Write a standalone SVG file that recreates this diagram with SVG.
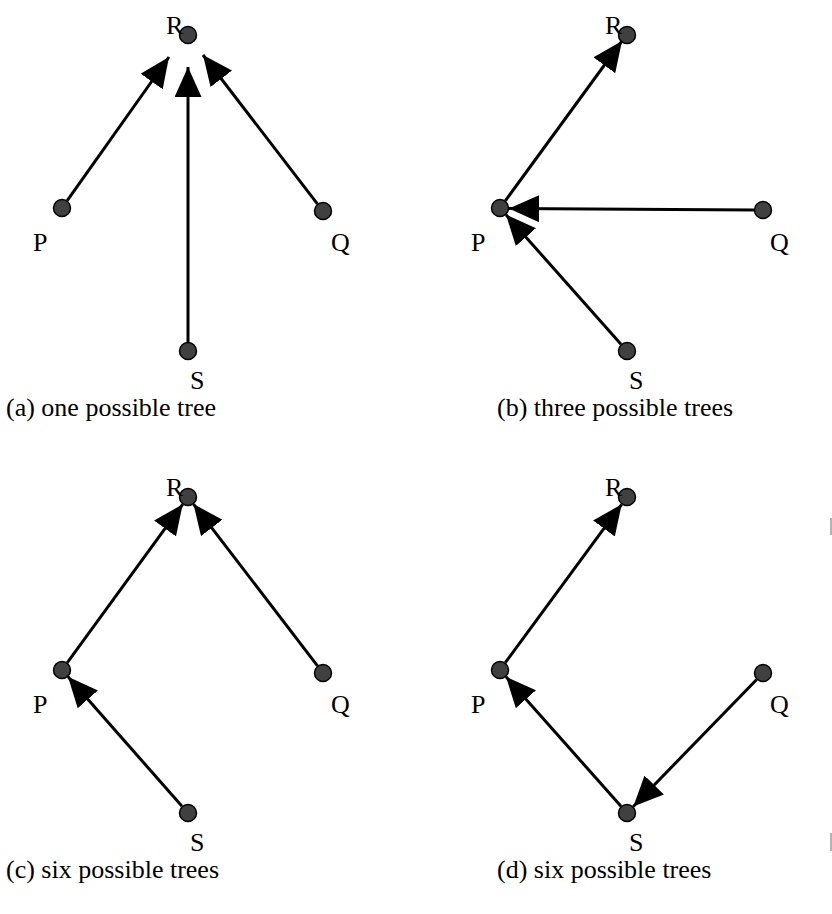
<svg xmlns="http://www.w3.org/2000/svg" width="832" height="914" viewBox="0 0 832 914">
<style>
.n{fill:#404040;stroke:#000;stroke-width:1.5}
.e{stroke:#000;stroke-width:3;fill:none;marker-end:url(#ah)}
text{font-family:"Liberation Serif","Times New Roman",serif;font-size:26px;fill:#000}
</style>
<defs>
<marker id="ah" markerUnits="userSpaceOnUse" markerWidth="31" markerHeight="27" refX="30" refY="13.5" orient="auto" viewBox="0 0 31 27">
<path d="M0,0 L30,13.5 L0,27 Z" fill="#000"/>
</marker>
</defs>
<rect width="832" height="914" fill="#fff"/>
<g id="panel-a">
<g id="a-R"><circle class="n" cx="188" cy="35" r="8.5"/><text x="166" y="34">R</text></g>
<g id="a-P"><circle class="n" cx="62" cy="208" r="8.5"/><text x="33" y="251">P</text></g>
<g id="a-Q"><circle class="n" cx="323" cy="211" r="8.5"/><text x="331" y="251">Q</text></g>
<g id="a-S"><circle class="n" cx="188" cy="351" r="8.5"/><text x="190" y="389">S</text></g>
<text x="6" y="416">(a) one possible tree</text>
</g>
<g id="panel-b">
<g id="b-R"><circle class="n" cx="627" cy="35" r="8.5"/><text x="605" y="34">R</text></g>
<g id="b-P"><circle class="n" cx="500" cy="208" r="8.5"/><text x="471" y="251">P</text></g>
<g id="b-Q"><circle class="n" cx="763" cy="210" r="8.5"/><text x="770" y="251">Q</text></g>
<g id="b-S"><circle class="n" cx="627" cy="351" r="8.5"/><text x="629" y="389">S</text></g>
<text x="497" y="416">(b) three possible trees</text>
</g>
<g id="panel-c">
<g id="c-R"><circle class="n" cx="188" cy="497" r="8.5"/><text x="166" y="496">R</text></g>
<g id="c-P"><circle class="n" cx="62" cy="670" r="8.5"/><text x="33" y="713">P</text></g>
<g id="c-Q"><circle class="n" cx="323" cy="673" r="8.5"/><text x="331" y="713">Q</text></g>
<g id="c-S"><circle class="n" cx="188" cy="813" r="8.5"/><text x="190" y="851">S</text></g>
<text x="6" y="878">(c) six possible trees</text>
</g>
<g id="panel-d">
<g id="d-R"><circle class="n" cx="627" cy="497" r="8.5"/><text x="605" y="496">R</text></g>
<g id="d-P"><circle class="n" cx="500" cy="670" r="8.5"/><text x="471" y="713">P</text></g>
<g id="d-Q"><circle class="n" cx="763" cy="673" r="8.5"/><text x="770" y="713">Q</text></g>
<g id="d-S"><circle class="n" cx="627" cy="813" r="8.5"/><text x="629" y="851">S</text></g>
<text x="497" y="878">(d) six possible trees</text>
</g>
<g id="connectors">
<line class="e" x1="67.2" y1="200.7" x2="169" y2="57"/>
<line class="e" x1="188" y1="342" x2="188" y2="67"/>
<line class="e" x1="317.4" y1="203.9" x2="203" y2="55"/>
<line class="e" x1="505.3" y1="200.8" x2="622" y2="41"/>
<line class="e" x1="754" y1="210" x2="509" y2="208.5"/>
<line class="e" x1="621" y1="344.3" x2="506" y2="214.7"/>
<line class="e" x1="67.3" y1="662.7" x2="182.7" y2="504.3"/>
<line class="e" x1="317.5" y1="665.9" x2="193.5" y2="504.1"/>
<line class="e" x1="182" y1="806.2" x2="68" y2="676.8"/>
<line class="e" x1="505.3" y1="662.7" x2="621.7" y2="504.3"/>
<line class="e" x1="621" y1="806.2" x2="506" y2="676.8"/>
<line class="e" x1="756.7" y1="679.5" x2="633.3" y2="806.5"/>
</g>
<g id="edge-marks" stroke="#9a9a9a" stroke-width="1.5">
<line x1="831" y1="518" x2="831" y2="535"/>
<line x1="831" y1="833" x2="831" y2="851"/>
</g>
</svg>
